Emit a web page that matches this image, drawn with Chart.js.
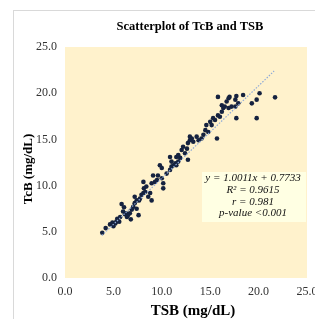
<!DOCTYPE html>
<html>
<head>
<meta charset="utf-8">
<script src="https://cdn.jsdelivr.net/npm/chart.js@4.4.1/dist/chart.umd.min.js"></script>
<style>
  html, body { margin: 0; padding: 0; background: #fff; }
  canvas { display: block; }
</style>
</head>
<body>
<canvas id="tcb-tsb" width="315" height="319"></canvas>
<script>
// TSB (x) vs TcB (y), mg/dL
const tsb = [3.85, 4.2, 4.65, 4.9, 5.0, 5.2, 5.3, 5.4, 5.6, 5.7, 5.85, 6.0, 6.1, 6.2, 6.3, 6.4, 6.5, 6.7, 6.8, 6.9, 7.05, 7.2, 7.4, 7.6, 7.65,
    7.2, 7.4, 7.75, 7.9, 8.1, 8.3, 8.6, 8.8, 8.1, 8.15, 8.4, 8.95, 9.1, 8.95, 9.3, 9.5, 9.6, 9.8, 10.0, 10.15, 10.15, 10.5, 10.85, 11.0, 11.4, 11.5, 11.7,
    10.0, 10.85, 11.0, 11.2, 11.5, 11.9, 11.7, 12.05, 12.4, 12.2, 12.6, 12.7, 12.7, 12.9, 13.1, 13.25, 13.6, 13.8, 14.1, 14.3, 14.5, 12.9,
    14.6, 14.8, 15.0, 15.15, 15.3, 15.5, 15.7, 15.8, 16.0, 16.2, 16.35, 16.2, 16.7, 16.9, 15.8,
    16.5, 16.9, 17.0, 17.2, 17.6, 17.7, 17.9, 18.4, 19.3, 19.8, 20.1, 21.7, 17.7, 19.8, 17.6]
const tcb = [4.9, 5.4, 5.8, 6.0, 5.6, 5.9, 6.1, 6.4, 6.1, 6.6, 8.0, 7.2, 7.65, 6.9, 7.0, 6.6, 6.8, 7.0, 6.35, 7.4, 7.7, 8.1, 7.5, 6.8, 8.4,
    8.8, 8.4, 8.6, 9.0, 9.2, 9.3, 8.8, 9.2, 10.4, 9.7, 9.9, 10.25, 11.1, 8.4, 10.4, 10.6, 11.1, 12.2, 10.8, 10.25, 9.7, 11.3, 11.7, 12.05, 12.4, 12.2, 12.6,
    11.9, 13.1, 12.6, 12.2, 13.1, 13.0, 13.3, 13.85, 13.5, 14.2, 14.0, 12.8, 14.6, 14.9, 15.1, 14.75, 15.3, 14.9, 15.1, 15.5, 16.0, 15.3,
    16.55, 15.8, 16.9, 16.55, 17.3, 17.1, 15.1, 17.6, 17.45, 18.0, 18.4, 18.7, 19.1, 19.45, 19.6,
    18.55, 18.4, 19.6, 18.55, 19.3, 19.7, 18.9, 19.8, 18.9, 19.3, 20.0, 19.55, 17.3, 17.3, 18.55]

// linear trendline ends
const trendX = [3.8, 21.6]
const trendY = [4.6, 22.4]

const tickValues = [0, 5, 10, 15, 20, 25]
const statLines = ['y = 1.0011x + 0.7733', 'R² = 0.9615', 'r = 0.981', 'p-value <0.001']

const serif = '"Liberation Serif", "Times New Roman", serif'

const frame = {
    id: 'frame',
    beforeDraw(chart) {
        const { ctx, chartArea: a } = chart
        ctx.save()
        ctx.fillStyle = '#fff'
        ctx.fillRect(0, 0, chart.width, chart.height)
        ctx.strokeStyle = '#d9d9d9'
        ctx.lineWidth = 1
        ctx.strokeRect(13.5, 10.5, 400, 400)
        ctx.fillStyle = '#fff2cc'
        ctx.fillRect(a.left, a.top, a.right - a.left, a.bottom - a.top)
        ctx.restore()
    },
    afterDraw(chart) {
        const ctx = chart.ctx
        ctx.save()
        ctx.fillStyle = '#000'
        ctx.textAlign = 'center'
        ctx.textBaseline = 'middle'
        ctx.font = 'bold 12.5px ' + serif
        ctx.fillText('Scatterplot of TcB and TSB', 190, 27)
        ctx.font = 'bold 15px ' + serif
        ctx.fillText('TSB (mg/dL)', 193, 311)
        ctx.translate(29, 169)
        ctx.rotate(-Math.PI / 2)
        ctx.font = 'bold 13px ' + serif
        ctx.fillText('TcB (mg/dL)', 0, 0)
        ctx.restore()

        // stats box
        ctx.save()
        ctx.fillStyle = '#ffffe3'
        ctx.fillRect(202, 172, 104, 50)
        ctx.fillStyle = '#111'
        ctx.textAlign = 'center'
        ctx.textBaseline = 'middle'
        ctx.font = 'italic 11px ' + serif
        const ys = [178.5, 190.5, 202, 213]
        statLines.forEach((t, i) => ctx.fillText(t, 253, ys[i]))
        ctx.restore()
    }
}

const tickFont = { family: serif, size: 12 }

new Chart(document.getElementById('tcb-tsb').getContext('2d'), {
    type: 'scatter',
    data: {
        datasets: [{
            label: 'Linear (TcB)',
            data: trendX.map((x, i) => ({ x: x, y: trendY[i] })),
            showLine: true,
            borderColor: '#8eaad8',
            borderWidth: 1.2,
            borderDash: [1.5, 1.5],
            pointRadius: 0
        }, {
            label: 'TcB',
            data: tsb.map((x, i) => ({ x: x, y: tcb[i] })),
            backgroundColor: '#15223f',
            borderWidth: 0,
            pointRadius: 2.3
        }]
    },
    options: {
        responsive: false,
        animation: false,
        layout: { padding: { left: 0, right: 8, top: 47, bottom: 0 } },
        plugins: {
            legend: { display: false },
            tooltip: { enabled: false }
        },
        scales: {
            x: {
                min: 0,
                max: 25,
                grid: { display: false, drawTicks: false },
                border: { display: false },
                afterBuildTicks: s => { s.ticks = tickValues.map(v => ({ value: v })) },
                afterFit: s => { s.height = 41; s.paddingLeft = 0; s.paddingRight = 0 },
                ticks: {
                    padding: 7,
                    maxRotation: 0,
                    color: '#333',
                    font: tickFont,
                    callback: v => v.toFixed(1)
                }
            },
            y: {
                min: 0,
                max: 25,
                grid: { display: false, drawTicks: false },
                border: { display: false },
                afterBuildTicks: s => { s.ticks = tickValues.map(v => ({ value: v })) },
                afterFit: s => { s.width = 65 },
                ticks: {
                    padding: 8,
                    color: '#333',
                    font: tickFont,
                    callback: v => v.toFixed(1)
                }
            }
        }
    },
    plugins: [frame]
})
</script>
</body>
</html>
